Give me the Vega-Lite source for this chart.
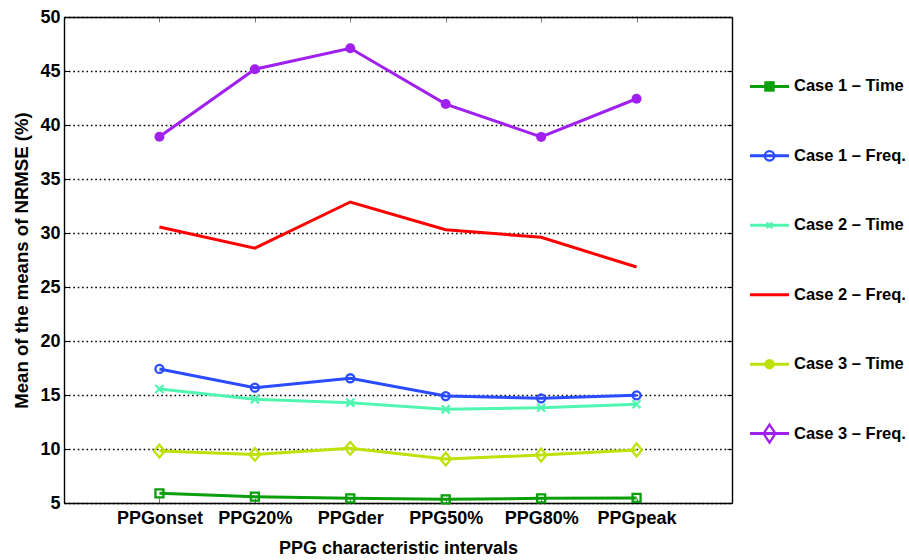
{
  "$schema": "https://vega.github.io/schema/vega-lite/v6.json",
  "autosize": {"type": "pad"},
  "padding": {"left": 12, "top": 8, "right": 0, "bottom": 0},
  "background": "white",
  "config": {
    "font": "Liberation Sans",
    "view": {"stroke": null},
    "axis": {
      "labelFont": "Liberation Sans",
      "labelFontSize": 18,
      "labelFontWeight": "bold",
      "labelColor": "black",
      "titleFont": "Liberation Sans",
      "titleFontSize": 18,
      "titleFontWeight": "bold",
      "titleColor": "black",
      "domainColor": "black",
      "domainWidth": 1.4
    },
    "text": {"font": "Liberation Sans"}
  },
  "datasets": {
    "d": [
      {"interval": "PPGonset", "series": "Case 1 – Time", "nrmse": 5.9},
      {"interval": "PPG20%", "series": "Case 1 – Time", "nrmse": 5.59},
      {"interval": "PPGder", "series": "Case 1 – Time", "nrmse": 5.43},
      {"interval": "PPG50%", "series": "Case 1 – Time", "nrmse": 5.34},
      {"interval": "PPG80%", "series": "Case 1 – Time", "nrmse": 5.43},
      {"interval": "PPGpeak", "series": "Case 1 – Time", "nrmse": 5.47},
      {"interval": "PPGonset", "series": "Case 1 – Freq.", "nrmse": 17.41},
      {"interval": "PPG20%", "series": "Case 1 – Freq.", "nrmse": 15.68},
      {"interval": "PPGder", "series": "Case 1 – Freq.", "nrmse": 16.55},
      {"interval": "PPG50%", "series": "Case 1 – Freq.", "nrmse": 14.9},
      {"interval": "PPG80%", "series": "Case 1 – Freq.", "nrmse": 14.69},
      {"interval": "PPGpeak", "series": "Case 1 – Freq.", "nrmse": 14.97},
      {"interval": "PPGonset", "series": "Case 2 – Time", "nrmse": 15.56},
      {"interval": "PPG20%", "series": "Case 2 – Time", "nrmse": 14.6},
      {"interval": "PPGder", "series": "Case 2 – Time", "nrmse": 14.29},
      {"interval": "PPG50%", "series": "Case 2 – Time", "nrmse": 13.67},
      {"interval": "PPG80%", "series": "Case 2 – Time", "nrmse": 13.82},
      {"interval": "PPGpeak", "series": "Case 2 – Time", "nrmse": 14.14},
      {"interval": "PPGonset", "series": "Case 2 – Freq.", "nrmse": 30.56},
      {"interval": "PPG20%", "series": "Case 2 – Freq.", "nrmse": 28.6},
      {"interval": "PPGder", "series": "Case 2 – Freq.", "nrmse": 32.87},
      {"interval": "PPG50%", "series": "Case 2 – Freq.", "nrmse": 30.3},
      {"interval": "PPG80%", "series": "Case 2 – Freq.", "nrmse": 29.6},
      {"interval": "PPGpeak", "series": "Case 2 – Freq.", "nrmse": 26.85},
      {"interval": "PPGonset", "series": "Case 3 – Time", "nrmse": 9.81},
      {"interval": "PPG20%", "series": "Case 3 – Time", "nrmse": 9.5},
      {"interval": "PPGder", "series": "Case 3 – Time", "nrmse": 10.06},
      {"interval": "PPG50%", "series": "Case 3 – Time", "nrmse": 9.07},
      {"interval": "PPG80%", "series": "Case 3 – Time", "nrmse": 9.44},
      {"interval": "PPGpeak", "series": "Case 3 – Time", "nrmse": 9.91},
      {"interval": "PPGonset", "series": "Case 3 – Freq.", "nrmse": 38.92},
      {"interval": "PPG20%", "series": "Case 3 – Freq.", "nrmse": 45.16},
      {"interval": "PPGder", "series": "Case 3 – Freq.", "nrmse": 47.1},
      {"interval": "PPG50%", "series": "Case 3 – Freq.", "nrmse": 41.94},
      {"interval": "PPG80%", "series": "Case 3 – Freq.", "nrmse": 38.9},
      {"interval": "PPGpeak", "series": "Case 3 – Freq.", "nrmse": 42.43}
    ]
  },
  "spacing": 15,
  "resolve": {"scale": {"shape": "independent", "size": "independent"}},
  "hconcat": [
    {
      "width": 668,
      "height": 486,
      "data": {"name": "d"},
      "resolve": {"axis": {"x": "independent", "y": "independent"}},
      "layer": [
        {
          "mark": {"type": "line", "strokeWidth": 3},
          "encoding": {
            "x": {
              "field": "interval", "type": "ordinal", "sort": null,
              "scale": {"type": "point", "padding": 1, "domain": ["PPGonset", "PPG20%", "PPGder", "PPG50%", "PPG80%", "PPGpeak"]},
              "axis": {"orient": "bottom", "title": "PPG characteristic intervals", "labelAngle": 0, "tickSize": -5, "tickColor": "#777", "labelPadding": 11, "titlePadding": 12, "grid": false}
            },
            "y": {
              "field": "nrmse", "type": "quantitative",
              "scale": {"domain": [5, 50], "nice": false, "zero": false},
              "axis": {"orient": "left", "values": [5, 10, 15, 20, 25, 30, 35, 40, 45, 50], "title": "Mean of the means of NRMSE (%)", "titleFontSize": 18.6, "grid": true, "gridColor": "black", "gridDash": [1.6, 2.8], "gridWidth": 1.6, "tickSize": -5, "tickColor": "black", "labelPadding": 9, "titlePadding": 8}
            },
            "color": {
              "field": "series", "type": "nominal",
              "scale": {"domain": ["Case 1 – Time", "Case 1 – Freq.", "Case 2 – Time", "Case 2 – Freq.", "Case 3 – Time", "Case 3 – Freq."], "range": ["#0a9e0a", "#2a4bff", "#50f5b0", "#ff0000", "#bfe00a", "#a020f0"]},
              "legend": null
            }
          }
        },
        {
          "transform": [{"filter": {"field": "series", "oneOf": ["Case 1 – Time", "Case 1 – Freq.", "Case 2 – Time", "Case 3 – Time"]}}],
          "mark": {"type": "point", "filled": false, "strokeWidth": 2.3, "opacity": 1, "size": 64},
          "encoding": {
            "x": {"field": "interval", "type": "ordinal", "sort": null,
              "scale": {"type": "point", "padding": 1, "domain": ["PPGonset", "PPG20%", "PPGder", "PPG50%", "PPG80%", "PPGpeak"]},
              "axis": {"orient": "top", "labels": false, "title": null, "tickSize": -5, "tickColor": "#777", "grid": false}},
            "y": {"field": "nrmse", "type": "quantitative",
              "scale": {"domain": [5, 50], "nice": false, "zero": false},
              "axis": {"orient": "right", "labels": false, "title": null, "values": [5, 10, 15, 20, 25, 30, 35, 40, 45, 50], "tickSize": -5, "tickColor": "black", "grid": false}},
            "color": {"field": "series", "type": "nominal", "legend": null},
            "shape": {"field": "series", "type": "nominal", "legend": null,
              "scale": {"domain": ["Case 1 – Time", "Case 1 – Freq.", "Case 2 – Time", "Case 3 – Time"],
                "range": ["M-1,-1H1V1H-1Z", "circle", "M-1,-1L1,1M-1,1L1,-1", "M0,-1.6L1.35,0L0,1.6L-1.35,0Z"]}}
          }
        },
        {
          "transform": [{"filter": {"field": "series", "equal": "Case 3 – Freq."}}],
          "mark": {"type": "point", "filled": true, "opacity": 1, "size": 100, "shape": "circle"},
          "encoding": {
            "x": {"field": "interval", "type": "ordinal", "sort": null, "axis": null},
            "y": {"field": "nrmse", "type": "quantitative", "axis": null},
            "color": {"field": "series", "type": "nominal", "legend": null}
          }
        }
      ]
    },
    {
      "width": 160,
      "height": 486,
      "data": {"name": "d"},
      "transform": [{"aggregate": [], "groupby": ["series"]}],
      "layer": [
        {
          "mark": {"type": "rule", "strokeWidth": 3},
          "encoding": {
            "x": {"datum": 0, "type": "quantitative", "scale": {"domain": [0, 160], "nice": false, "zero": false}, "axis": null},
            "x2": {"datum": 39},
            "y": {"field": "series", "type": "nominal", "scale": {"type": "point", "padding": 1, "domain": ["Case 1 – Time", "Case 1 – Freq.", "Case 2 – Time", "Case 2 – Freq.", "Case 3 – Time", "Case 3 – Freq."]}, "axis": null},
            "color": {"field": "series", "type": "nominal", "legend": null}
          }
        },
        {
          "transform": [{"filter": {"field": "series", "oneOf": ["Case 1 – Freq.", "Case 2 – Time", "Case 3 – Freq."]}}],
          "mark": {"type": "point", "filled": false, "strokeWidth": 2.3, "opacity": 1, "size": 90},
          "encoding": {
            "x": {"datum": 19.5, "type": "quantitative"},
            "y": {"field": "series", "type": "nominal"},
            "color": {"field": "series", "type": "nominal", "legend": null},
            "shape": {"field": "series", "type": "nominal", "legend": null,
              "scale": {"domain": ["Case 1 – Time", "Case 1 – Freq.", "Case 2 – Time", "Case 2 – Freq.", "Case 3 – Time", "Case 3 – Freq."],
                "range": ["square", "circle", "M-0.6,-0.6L0.6,0.6M-0.6,0.6L0.6,-0.6", "circle", "circle", "M0,-1.9L1.25,0L0,1.9L-1.25,0Z"]}}
          }
        },
        {
          "transform": [{"filter": {"field": "series", "oneOf": ["Case 1 – Time", "Case 3 – Time"]}}],
          "mark": {"type": "point", "filled": true, "opacity": 1, "size": 110},
          "encoding": {
            "x": {"datum": 19.5, "type": "quantitative"},
            "y": {"field": "series", "type": "nominal"},
            "color": {"field": "series", "type": "nominal", "legend": null},
            "shape": {"field": "series", "type": "nominal", "legend": null}
          }
        },
        {
          "mark": {"type": "text", "align": "left", "baseline": "middle", "fontSize": 16.5, "fontWeight": "bold", "color": "black"},
          "encoding": {
            "x": {"datum": 44, "type": "quantitative"},
            "y": {"field": "series", "type": "nominal"},
            "text": {"field": "series", "type": "nominal"}
          }
        }
      ]
    }
  ]
}
